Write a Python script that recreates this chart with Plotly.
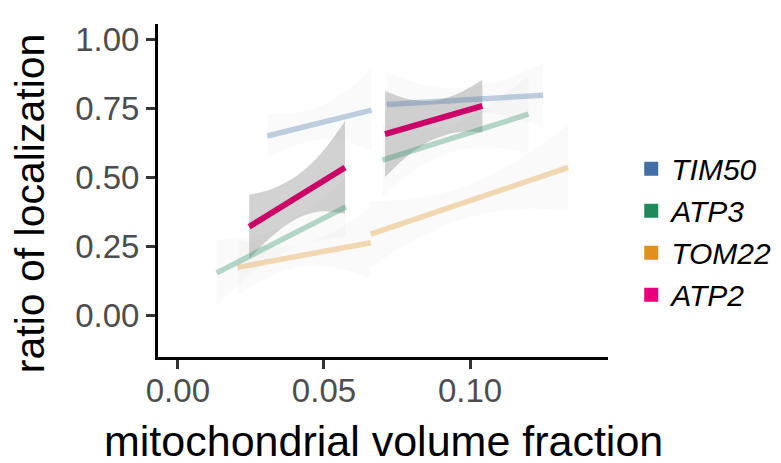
import plotly.graph_objects as go

# ---------------- data ----------------
genes = ["TIM50", "ATP3", "TOM22", "ATP2"]
legend_colors = ["#4270A6", "#1E8A5C", "#E0901C", "#E6007E"]
line_colors = ["rgba(66,112,166,0.32)", "rgba(30,138,92,0.32)",
               "rgba(224,144,28,0.32)", "#CC0066"]
ribbon_colors = ["rgba(150,150,150,0.045)", "rgba(150,150,150,0.045)",
                 "rgba(150,150,150,0.045)", "rgba(150,150,150,0.43)"]

x_ticks = [0.00, 0.05, 0.10]
x_tick_labels = ["0.00", "0.05", "0.10"]
y_ticks = [0.00, 0.25, 0.50, 0.75, 1.00]
y_tick_labels = ["0.00", "0.25", "0.50", "0.75", "1.00"]

# TIM50, segment a (low volume) and b (high volume)
tim50_a_x = [0.0306, 0.0395, 0.0485, 0.0574, 0.0663]
tim50_a_lo = [0.569, 0.612, 0.636, 0.630, 0.593]
tim50_a_hi = [0.729, 0.733, 0.756, 0.810, 0.893]
tim50_a_fit = [0.649, 0.743]
tim50_b_x = [0.0715, 0.0849, 0.0983, 0.1116, 0.1250]
tim50_b_lo = [0.643, 0.712, 0.735, 0.724, 0.682]
tim50_b_hi = [0.883, 0.832, 0.825, 0.854, 0.912]
tim50_b_fit = [0.763, 0.797]

# ATP3
atp3_a_x = [0.0133, 0.0243, 0.0354, 0.0464, 0.0575]
atp3_a_lo = [0.033, 0.143, 0.223, 0.267, 0.282]
atp3_a_hi = [0.273, 0.283, 0.323, 0.397, 0.502]
atp3_a_fit = [0.153, 0.392]
atp3_b_x = [0.0700, 0.0825, 0.0950, 0.1075, 0.1200]
atp3_b_lo = [0.432, 0.534, 0.595, 0.607, 0.588]
atp3_b_hi = [0.692, 0.674, 0.695, 0.767, 0.868]
atp3_b_fit = [0.562, 0.728]

# TOM22
tom22_a_x = [0.0204, 0.0318, 0.0432, 0.0546, 0.0660]
tom22_a_lo = [0.073, 0.140, 0.178, 0.170, 0.132]
tom22_a_hi = [0.273, 0.250, 0.258, 0.310, 0.392]
tom22_a_fit = [0.173, 0.262]
tom22_b_x = [0.0660, 0.0829, 0.0998, 0.1167, 0.1336]
tom22_b_lo = [0.173, 0.284, 0.354, 0.385, 0.380]
tom22_b_hi = [0.413, 0.424, 0.474, 0.565, 0.690]
tom22_b_fit = [0.293, 0.535]

# ATP2
atp2_a_x = [0.0244, 0.0326, 0.0408, 0.0490, 0.0572]
atp2_a_lo = [0.204, 0.289, 0.350, 0.376, 0.367]
atp2_a_hi = [0.436, 0.459, 0.506, 0.586, 0.703]
atp2_a_fit = [0.320, 0.535]
atp2_b_x = [0.0709, 0.0792, 0.0876, 0.0959, 0.1042]
atp2_b_lo = [0.500, 0.582, 0.637, 0.663, 0.663]
atp2_b_hi = [0.812, 0.782, 0.777, 0.803, 0.853]
atp2_b_fit = [0.656, 0.758]

segments = [
    (0, tim50_a_x, tim50_a_lo, tim50_a_hi, tim50_a_fit),
    (0, tim50_b_x, tim50_b_lo, tim50_b_hi, tim50_b_fit),
    (1, atp3_a_x, atp3_a_lo, atp3_a_hi, atp3_a_fit),
    (1, atp3_b_x, atp3_b_lo, atp3_b_hi, atp3_b_fit),
    (2, tom22_a_x, tom22_a_lo, tom22_a_hi, tom22_a_fit),
    (2, tom22_b_x, tom22_b_lo, tom22_b_hi, tom22_b_fit),
    (3, atp2_a_x, atp2_a_lo, atp2_a_hi, atp2_a_fit),
    (3, atp2_b_x, atp2_b_lo, atp2_b_hi, atp2_b_fit),
]

FONT = "Liberation Sans, Arial, Helvetica, sans-serif"

fig = go.Figure()

# ribbons (confidence bands)
for gi, xs, lo, hi, fit in segments:
    fig.add_trace(go.Scatter(x=xs, y=lo, mode="lines", line=dict(width=0, shape="spline"),
                             showlegend=False, hoverinfo="skip"))
    fig.add_trace(go.Scatter(x=xs, y=hi, mode="lines", line=dict(width=0, shape="spline"),
                             fill="tonexty", fillcolor=ribbon_colors[gi],
                             showlegend=False, hoverinfo="skip"))

# fitted lines
for gi, xs, lo, hi, fit in segments:
    fig.add_trace(go.Scatter(x=[xs[0], xs[-1]], y=fit, mode="lines",
                             line=dict(color=line_colors[gi], width=6 if gi == 3 else 5.5),
                             showlegend=False, name=genes[gi]))

# legend keys
for g, c in zip(genes, legend_colors):
    fig.add_trace(go.Scatter(x=[None], y=[None], mode="markers", name=g,
                             marker=dict(symbol="square", size=14, color=c)))

fig.update_layout(
    width=781, height=463,
    paper_bgcolor="white", plot_bgcolor="white",
    margin=dict(l=150, r=181, t=16, b=114),
    font=dict(family=FONT),
    xaxis=dict(range=[-0.0068, 0.1472], tickvals=x_ticks, ticktext=x_tick_labels,
               showgrid=False, zeroline=False, showline=True, linecolor="black", linewidth=3,
               ticks="outside", ticklen=9, tickwidth=3, tickcolor="#333333",
               tickfont=dict(size=33, color="#4D4D4D", family=FONT), ticklabelstandoff=-7),
    yaxis=dict(range=[-0.152, 1.055], tickvals=y_ticks, ticktext=y_tick_labels,
               showgrid=False, zeroline=False, showline=True, linecolor="black", linewidth=3,
               ticks="outside", ticklen=9, tickwidth=3, tickcolor="#333333",
               tickfont=dict(size=33, color="#4D4D4D", family=FONT), ticklabelstandoff=0),
    legend=dict(xref="container", yref="container", x=0.798, y=0.709,
                xanchor="left", yanchor="top", bgcolor="rgba(0,0,0,0)",
                traceorder="normal",
                font=dict(size=30, color="black", family=FONT, style="italic"),
                itemsizing="trace"),
    annotations=[
        dict(text="mitochondrial volume fraction", xref="paper", yref="paper",
             x=0.5, y=-0.252, xanchor="center", yanchor="middle", showarrow=False,
             font=dict(size=43, color="black", family=FONT)),
        dict(text="ratio of localization", xref="paper", yref="paper",
             x=-0.284, y=0.4625, xanchor="center", yanchor="middle", showarrow=False,
             textangle=-90, font=dict(size=41, color="black", family=FONT)),
    ],
)

fig.write_html("out.html")
